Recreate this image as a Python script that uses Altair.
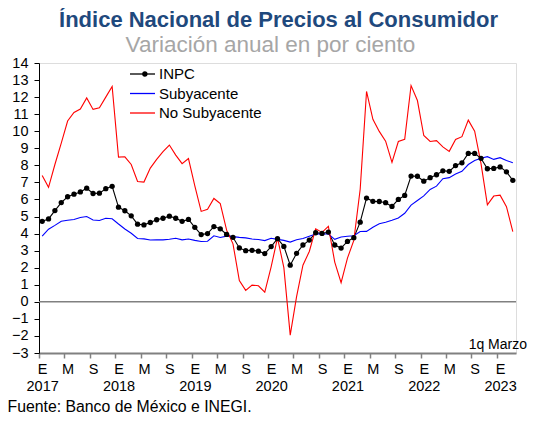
import altair as alt
import pandas as pd

# ---- data (monthly, Jan 2017 .. Mar 2023, 1q Marzo) ----
series_names = ["INPC", "Subyacente", "No Subyacente"]
series_colors = ["#000000", "#0000FF", "#FF0000"]

inpc = [4.72, 4.86, 5.35, 5.82, 6.16, 6.31, 6.44, 6.66, 6.35, 6.37, 6.63, 6.77,
        5.55, 5.34, 5.04, 4.55, 4.51, 4.65, 4.81, 4.90, 5.02, 4.90, 4.72, 4.83,
        4.37, 3.94, 4.00, 4.41, 4.28, 3.95, 3.78, 3.16, 3.00, 3.02, 2.97, 2.83,
        3.24, 3.70, 3.25, 2.15, 2.84, 3.33, 3.62, 4.05, 4.01, 4.09, 3.33, 3.15,
        3.54, 3.76, 4.67, 6.08, 5.89, 5.88, 5.81, 5.59, 6.00, 6.24, 7.37, 7.36,
        7.07, 7.28, 7.45, 7.68, 7.65, 7.99, 8.15, 8.70, 8.70, 8.41, 7.80, 7.82,
        7.91, 7.62, 7.12]

subyacente = [3.85, 4.26, 4.48, 4.72, 4.78, 4.83, 4.94, 5.00, 4.80, 4.77, 4.90, 4.87,
              4.56, 4.27, 4.02, 3.71, 3.69, 3.62, 3.63, 3.63, 3.67, 3.73, 3.63, 3.68,
              3.60, 3.54, 3.55, 3.87, 3.77, 3.85, 3.82, 3.78, 3.75, 3.68, 3.65, 3.59,
              3.73, 3.66, 3.60, 3.50, 3.64, 3.71, 3.85, 3.97, 3.99, 3.98, 3.66, 3.80,
              3.84, 3.87, 4.12, 4.13, 4.37, 4.58, 4.66, 4.78, 4.92, 5.19, 5.67, 5.94,
              6.21, 6.59, 6.78, 7.22, 7.28, 7.49, 7.65, 8.05, 8.28, 8.42, 8.51, 8.35,
              8.45, 8.29, 8.15]

no_subyacente = [7.41, 6.71, 8.05, 9.30, 10.60, 11.10, 11.30, 11.95, 11.28, 11.38, 12.00, 12.62,
                 8.48, 8.50, 8.05, 7.05, 7.02, 7.84, 8.35, 8.80, 9.19, 8.60, 8.10, 8.40,
                 6.80, 5.30, 5.42, 6.06, 5.76, 4.20, 3.40, 1.25, 0.67, 0.98, 0.94, 0.57,
                 2.05, 3.75, 2.00, -1.95, 0.30, 2.15, 2.95, 4.28, 4.07, 4.42, 2.33, 1.12,
                 2.56, 3.60, 6.60, 12.33, 10.70, 9.99, 9.42, 8.17, 9.40, 9.53, 12.68, 11.80,
                 9.75, 9.40, 9.45, 9.08, 8.82, 9.52, 9.68, 10.65, 10.00, 8.10, 5.68, 6.20,
                 6.25, 5.58, 4.12]

month_letters = ["E", "M", "S"]          # labels every 4 months
years = [2017, 2018, 2019, 2020, 2021, 2022, 2023]
y_ticks = list(range(-3, 15))

title_text = "Índice Nacional de Precios al Consumidor"
subtitle_text = "Variación anual en por ciento"
note_text = "1q Marzo"
source_text = "Fuente: Banco de México e INEGI."

# ---- build table ----
n = len(inpc)
rows = []
for name, vals in zip(series_names, [inpc, subyacente, no_subyacente]):
    for i, v in enumerate(vals):
        rows.append({"mes": i, "serie": name, "valor": v})
df = pd.DataFrame(rows)

# ---- x axis: ticks between months, labels on months ----
label_pos = list(range(0, n, 4))
tick_pos = [p - 0.5 for p in label_pos]
expr = ""
for p in label_pos:
    letter = month_letters[(p % 12) // 4]
    if p % 12 == 0:
        lab = "['%s','%d']" % (letter, years[p // 12])
    else:
        lab = "'%s'" % letter
    expr += "datum.value === %d ? %s : " % (p, lab)
expr += "''"

FONT = "Liberation Sans"

x_enc = alt.X(
    "mes:Q",
    title=None,
    scale=alt.Scale(domain=[-0.5, n - 0.5], nice=False, zero=False),
    axis=alt.Axis(
        values=sorted(tick_pos + label_pos),
        labelExpr=expr,
        tickOpacity={"condition": {"test": "datum.value % 1 === 0", "value": 0}, "value": 1},
        labelOverlap=False,
        labelFlush=False,
        labelAngle=0,
        labelBaseline="top",
        labelFontSize=14.5,
        labelLineHeight=16.5,
        labelPadding=4.5,
        labelColor="#000000",
        labelFont=FONT,
        tickSize=5,
        tickColor="#808080",
        tickWidth=1.5,
        domainColor="#808080",
        domainWidth=2,
        grid=False,
    ),
)

y_enc = alt.Y(
    "valor:Q",
    title=None,
    scale=alt.Scale(domain=[-3, 14], nice=False, zero=False),
    axis=alt.Axis(
        values=y_ticks,
        labelOverlap=False,
        labelFlush=False,
        labelFontSize=14.5,
        labelColor="#000000",
        labelFont=FONT,
        labelPadding=6,
        tickSize=5,
        tickColor="#000000",
        domainColor="#000000",
        domainWidth=1,
        grid=False,
    ),
)

base = alt.Chart(df)

lines = base.mark_line(strokeWidth=1.1).encode(
    x=x_enc,
    y=y_enc,
    color=alt.Color(
        "serie:N",
        scale=alt.Scale(domain=series_names, range=series_colors),
        legend=alt.Legend(
            title=None,
            orient="none",
            legendX=96,
            legendY=3.5,
            padding=0,
            symbolType="M-2.5,0H2.5",
            symbolSize=100,
            symbolStrokeWidth=1.3,
            labelOffset=9,
            labelFontSize=15,
            labelFont=FONT,
            labelColor="#000000",
            rowPadding=3.5,
        ),
    ),
    detail="serie:N",
    order="mes:Q",
)

points = base.transform_filter(alt.datum.serie == "INPC").transform_calculate(
    marker="'INPC'"
).mark_point(filled=True, color="#000000", size=28, opacity=1).encode(
    x=x_enc,
    y=y_enc,
    shape=alt.Shape(
        "marker:N",
        scale=alt.Scale(domain=["INPC"], range=["circle"]),
        legend=alt.Legend(
            title=None,
            orient="none",
            legendX=98.35,
            legendY=3.5,
            padding=0,
            symbolSize=28,
            symbolFillColor="#000000",
            symbolStrokeColor="#000000",
            labelExpr="''",
            labelFontSize=15,
        ),
    ),
)

zero = alt.Chart(pd.DataFrame({"valor": [0]})).mark_rule(
    color="#808080", strokeWidth=1.5
).encode(y=y_enc)

title = alt.Chart(pd.DataFrame({"t": [title_text]})).mark_text(
    align="center", baseline="alphabetic", fontSize=22, fontWeight="bold",
    font=FONT, color="#1F497D"
).encode(x=alt.value(239.5), y=alt.value(-36.3), text="t:N")

subtitle = alt.Chart(pd.DataFrame({"t": [subtitle_text]})).mark_text(
    align="center", baseline="alphabetic", fontSize=22.5, font=FONT, color="#A6A6A6"
).encode(x=alt.value(231.5), y=alt.value(-11.5), text="t:N")

note = alt.Chart(pd.DataFrame({"t": [note_text]})).mark_text(
    align="right", baseline="middle", fontSize=14, font=FONT, color="#000000"
).encode(x=alt.value(488), y=alt.value(282), text="t:N")

source = alt.Chart(pd.DataFrame({"t": [source_text]})).mark_text(
    align="left", baseline="alphabetic", fontSize=15.8, font=FONT, color="#000000"
).encode(x=alt.value(-31.5), y=alt.value(348.5), text="t:N")

chart = alt.layer(zero, lines, points, title, subtitle, note, source).properties(
    width=477,
    height=290,
    autosize=alt.AutoSizeParams(type="none"),
    padding={"left": 31, "top": 55, "right": 14, "bottom": 60},
).configure_view(stroke=None).configure(font=FONT)

chart.save("out.html", embed_options={"renderer": "svg", "actions": False})
